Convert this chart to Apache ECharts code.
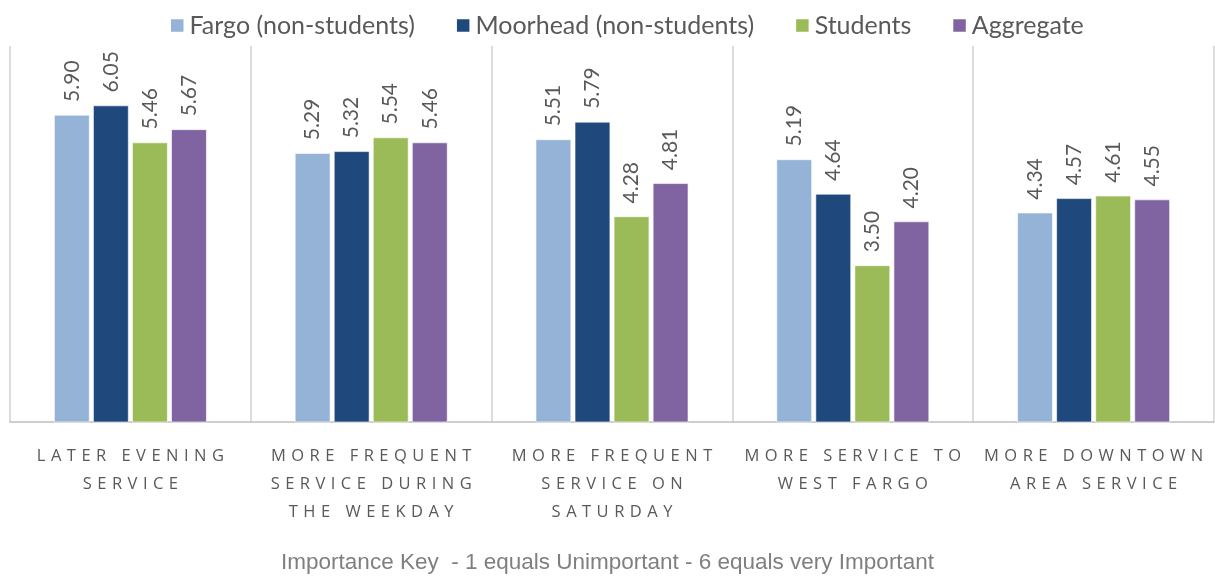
<!DOCTYPE html>
<html>
<head>
<meta charset="utf-8">
<script src="https://cdn.jsdelivr.net/npm/echarts@6/dist/echarts.min.js"></script>
<style>
  html, body { margin: 0; padding: 0; background: #fff; }
  #chart { width: 1215px; height: 579px; }
</style>
</head>
<body>
<div id="chart"></div>
<script>
// categories (line breaks as in the original)
var categories = [
  "LATER EVENING\nSERVICE",
  "MORE FREQUENT\nSERVICE DURING\nTHE WEEKDAY",
  "MORE FREQUENT\nSERVICE ON\nSATURDAY",
  "MORE SERVICE TO\nWEST FARGO",
  "MORE DOWNTOWN\nAREA SERVICE"
];
var fargo = [5.90, 5.29, 5.51, 5.19, 4.34];
var moorhead = [6.05, 5.32, 5.79, 4.64, 4.57];
var students = [5.46, 5.54, 4.28, 3.50, 4.61];
var aggregate = [5.67, 5.46, 4.81, 4.20, 4.55];
var seriesNames = ["Fargo (non-students)", "Moorhead (non-students)", "Students", "Aggregate"];
var colors = ["#95B3D7", "#1F497D", "#9BBB59", "#8064A2"];
var note = "Importance Key  - 1 equals Unimportant - 6 equals very Important";

var chart = echarts.init(document.getElementById("chart"));

// spread letters like the Excel character spacing
function spaced(s) {
  return s.split("\n").map(function (line) {
    return line.split("").join("\u2009\u2009");
  }).join("\n");
}

function makeSeries(name, data, color) {
  return {
    name: name,
    type: "bar",
    data: data,
    barWidth: 35.5,
    barGap: "10%",
    itemStyle: { color: color, borderColor: "#ffffff", borderWidth: 0.6 },
    label: {
      show: true,
      position: "top",
      rotate: 90,
      align: "left",
      verticalAlign: "middle",
      distance: 13,
      color: "#595959",
      fontFamily: "Lato",
      fontSize: 21,
      formatter: function (p) { return p.value.toFixed(2); }
    }
  };
}

var option = {
  animation: false,
  color: colors,
  title: {
    text: note,
    left: "center",
    bottom: 0,
    textStyle: {
      fontFamily: "Liberation Sans",
      fontWeight: "normal",
      fontSize: 22.5,
      color: "#7f7f7f"
    }
  },
  legend: {
    top: 8,
    left: 164,
    itemWidth: 14.5,
    itemHeight: 14.5,
    itemGap: 40,
    icon: "rect",
    textStyle: { fontFamily: "Lato", fontSize: 25, color: "#595959" },
    data: seriesNames
  },
  grid: { left: 10, right: 1, top: 46, bottom: 157 },
  xAxis: {
    type: "category",
    data: categories,
    axisTick: { show: false },
    axisLine: { lineStyle: { color: "#bfbfbf", width: 1.5 } },
    splitLine: { show: true, interval: 0, lineStyle: { color: "#d0d0d0", width: 1.5 } },
    axisLabel: {
      interval: 0,
      margin: 20,
      lineHeight: 28,
      color: "#595959",
      fontFamily: "Open Sans",
      fontSize: 16.5,
      formatter: function (v) { return spaced(v); }
    }
  },
  yAxis: {
    type: "value",
    min: 1,
    max: 7,
    interval: 1,
    show: false,
    splitLine: { show: false }
  },
  series: [
    makeSeries(seriesNames[0], fargo, colors[0]),
    makeSeries(seriesNames[1], moorhead, colors[1]),
    makeSeries(seriesNames[2], students, colors[2]),
    makeSeries(seriesNames[3], aggregate, colors[3])
  ]
};

chart.setOption(option);
</script>
</body>
</html>
